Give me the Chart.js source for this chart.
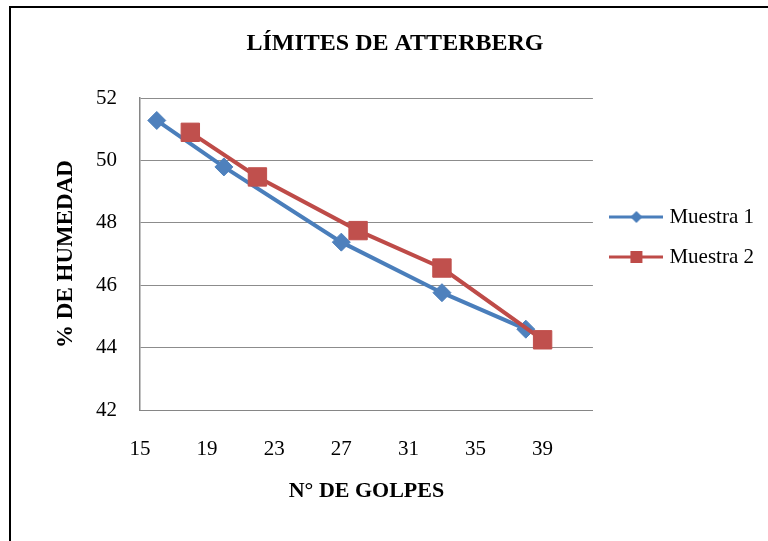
<!DOCTYPE html>
<html lang="es">
<head>
<meta charset="utf-8">
<title>Límites de Atterberg</title>
<script src="https://cdn.jsdelivr.net/npm/chart.js@4.4.1/dist/chart.umd.min.js"></script>
<style>
  html, body { margin: 0; padding: 0; background: #fff; overflow: hidden; }
  body { width: 768px; height: 541px; position: relative; }
  /* marco negro del gráfico, sale por la derecha y por abajo */
  #marco { position: absolute; left: 9px; top: 6px; width: 768px; height: 560px; border: 2px solid #000; }
  #lienzo { position: relative; width: 768px; height: 533px; }
</style>
</head>
<body>
<div id="marco"><div id="lienzo"><canvas id="grafico"></canvas></div></div>
<script>
// N° de golpes y % de humedad de cada muestra
const golpesM1 = [16, 20, 27, 33, 38];
const humedadM1 = [51.28, 49.79, 47.38, 45.76, 44.59];
const golpesM2 = [18, 22, 28, 33, 39];
const humedadM2 = [50.9, 49.47, 47.75, 46.55, 44.25];
// marcas de los ejes
const ticksGolpes = [15, 19, 23, 27, 31, 35, 39];
const ticksHumedad = [42, 44, 46, 48, 50, 52];

const azul = "#4A7EBB";
const rojo = "#BE4B48";

Chart.defaults.font.family = "'Liberation Serif', 'Times New Roman', serif";
Chart.defaults.color = "#000";

const puntos = (xs, ys) => xs.map((x, i) => ({ x: x, y: ys[i] }));

//icono de la leyenda: linea con su marcador
function iconoLeyenda(color, forma) {
  const c = document.createElement("canvas");
  c.width = 54;
  c.height = 16;
  const g = c.getContext("2d");
  g.strokeStyle = color;
  g.lineWidth = 3;
  g.beginPath();
  g.moveTo(0, 8);
  g.lineTo(54, 8);
  g.stroke();
  g.fillStyle = color;
  if (forma === "rombo") {
    g.beginPath();
    g.moveTo(27, 2);
    g.lineTo(33, 8);
    g.lineTo(27, 14);
    g.lineTo(21, 8);
    g.closePath();
    g.fill();
  } else {
    g.fillRect(21, 2, 12, 12);
  }
  return c;
}
const iconos = [iconoLeyenda(azul, "rombo"), iconoLeyenda(rojo, "cuadro")];

//sube un poco la leyenda respecto al centro del area de trazado
const moverLeyenda = {
  id: "moverLeyenda",
  afterLayout(chart) {
    const lg = chart.legend;
    lg.top -= 17;
    lg.bottom -= 17;
    lg.left += 2;
    lg.right += 2;
  },
};

const fuenteEje = { size: 21 };

// nota: chart.js reserva el padding de las marcas dos veces,
// por eso algunos paddings de titulo son negativos
new Chart(document.getElementById("grafico"), {
  type: "scatter",
  plugins: [moverLeyenda],
  data: {
    datasets: [
      {
        label: "Muestra 1",
        data: puntos(golpesM1, humedadM1),
        showLine: true,
        borderColor: azul,
        backgroundColor: "#4F81BD",
        borderWidth: 4,
        pointStyle: "rectRot",
        pointRadius: 9,
        pointBorderWidth: 1,
        pointBorderColor: "#4F81BD",
        order: 1,
      },
      {
        label: "Muestra 2",
        data: puntos(golpesM2, humedadM2),
        showLine: true,
        borderColor: rojo,
        backgroundColor: "#C0504D",
        borderWidth: 4,
        pointStyle: "rect",
        pointRadius: 13,
        pointBorderWidth: 1,
        pointBorderColor: "#C0504D",
        order: 0,
      },
    ],
  },
  options: {
    responsive: true,
    maintainAspectRatio: false,
    animation: false,
    layout: { padding: { left: 17, right: 17, top: 0, bottom: 0 } },
    plugins: {
      tooltip: { enabled: false },
      title: {
        display: true,
        text: "LÍMITES DE ATTERBERG",
        color: "#000",
        font: { size: 24, weight: "bold" },
        padding: { top: 21.6, bottom: 39.6 },
      },
      legend: {
        position: "right",
        fullSize: false,
        labels: {
          color: "#000",
          font: fuenteEje,
          usePointStyle: true,
          pointStyleWidth: 45,
          padding: 19,
          generateLabels: (chart) =>
            chart.data.datasets.map((ds, i) => ({
              text: ds.label,
              pointStyle: iconos[i],
              fillStyle: ds.backgroundColor,
              strokeStyle: ds.borderColor,
              lineWidth: 0,
              hidden: false,
              datasetIndex: i,
            })),
        },
      },
    },
    scales: {
      x: {
        type: "linear",
        min: 15,
        max: 42,
        afterBuildTicks: (scale) => {
          scale.ticks = ticksGolpes.map((v) => ({ value: v }));
        },
        grid: { display: false, drawTicks: false },
        border: { display: true, color: "#868686", width: 1 },
        ticks: { color: "#000", font: fuenteEje, padding: 27, maxRotation: 0, autoSkip: false },
        title: {
          display: true,
          text: "N° DE GOLPES",
          color: "#000",
          font: { size: 22, weight: "bold" },
          padding: { top: -11.4, bottom: 36.8 },
        },
      },
      y: {
        min: 42,
        max: 52,
        afterBuildTicks: (scale) => {
          scale.ticks = ticksHumedad.map((v) => ({ value: v }));
        },
        grid: { color: "#8C8C8C", lineWidth: 1, drawTicks: false },
        border: { display: true, color: "#868686", width: 1.5 },
        ticks: { color: "#000", font: fuenteEje, padding: 23 },
        title: {
          display: true,
          text: "% DE HUMEDAD",
          color: "#000",
          font: { size: 23, weight: "bold" },
          padding: { top: 24.2, bottom: -6.8 },
        },
      },
    },
  },
});
</script>
</body>
</html>
